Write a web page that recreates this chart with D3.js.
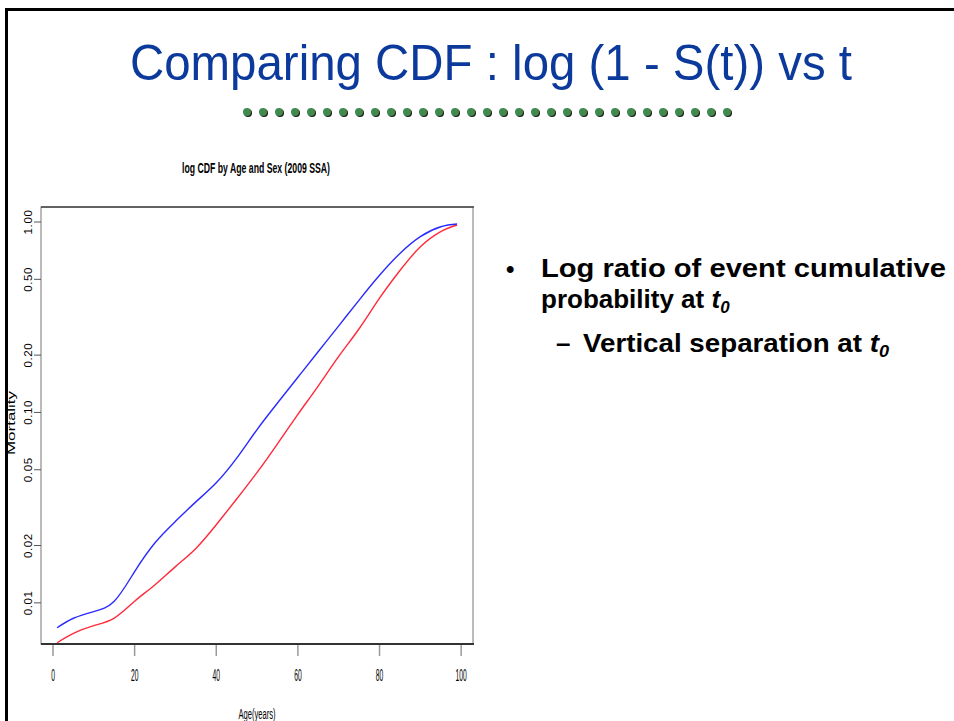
<!DOCTYPE html>
<html>
<head>
<meta charset="utf-8">
<script src="https://cdn.jsdelivr.net/npm/d3@7"></script>
<style>
  body { margin: 0; background: #fff; }
  svg { display: block; }
</style>
</head>
<body>
<svg id="slide" width="954" height="721"></svg>
<script>
// values (cumulative mortality, log scale)
const ages = [1, 5, 10, 15, 20, 25, 30, 35, 40, 45, 50, 55, 60, 65, 70, 75, 80, 85, 90, 95, 99]
const blueCdf = [0.0074, 0.0083, 0.0090, 0.0102, 0.0146, 0.0207, 0.0268, 0.0339, 0.0427, 0.0575, 0.0813,
    0.112, 0.153, 0.209, 0.285, 0.389, 0.525, 0.684, 0.838, 0.944, 0.976]
const redCdf = [0.00617, 0.00692, 0.00759, 0.00832, 0.0102, 0.01245, 0.0155, 0.0193, 0.0257, 0.0351, 0.0484,
    0.0684, 0.0977, 0.138, 0.197, 0.275, 0.398, 0.556, 0.741, 0.891, 0.964]
const xTicks = [0, 20, 40, 60, 80, 100]
const yTicks = [0.01, 0.02, 0.05, 0.10, 0.20, 0.50, 1.00]

const svg = d3.select('#slide')
const sans = 'Liberation Sans, Arial, Helvetica, sans-serif'

/**
 * fit a text element to a width by scaling glyphs
 */
function fit(sel, w) {
    sel.attr('textLength', w).attr('lengthAdjust', 'spacingAndGlyphs')
    return sel
}

// ---- slide frame
svg.append('rect')
    .attr('x', 6.5).attr('y', 9.5)
    .attr('width', 1000).attr('height', 800)
    .attr('fill', 'none').attr('stroke', '#000').attr('stroke-width', 3)

// ---- slide title
fit(svg.append('text')
    .attr('x', 491).attr('y', 80)
    .attr('text-anchor', 'middle')
    .attr('font-family', sans)
    .attr('font-size', 50)
    .attr('fill', '#0b3a9c')
    .text('Comparing CDF : log (1 - S(t)) vs t'), 722)

// dotted green rule
const dots = d3.range(31)
const dotG = svg.append('g')
dotG.selectAll('circle.shadow').data(dots).enter()
    .append('circle').attr('class', 'shadow')
    .attr('cx', d => 248 + d * 16).attr('cy', 113).attr('r', 4)
    .attr('fill', '#1a1a1a')
dotG.selectAll('circle.dot').data(dots).enter()
    .append('circle').attr('class', 'dot')
    .attr('cx', d => 247 + d * 16).attr('cy', 112).attr('r', 4)
    .attr('fill', '#3f8a4c')

// ---- chart
const box = { left: 41, right: 473, top: 207, bottom: 644 }

const x = d3.scaleLinear().domain([-2.94, 102.9]).range([box.left, box.right])
const y = d3.scaleLog().domain([0.00608, 1.199]).range([box.bottom, box.top])

fit(svg.append('text')
    .attr('x', 256).attr('y', 173)
    .attr('text-anchor', 'middle')
    .attr('font-family', sans)
    .attr('font-weight', 'bold')
    .attr('font-size', 14)
    .attr('fill', '#000')
    .text('log CDF by Age and Sex (2009 SSA)'), 148)

const chart = svg.append('g')

chart.append('rect')
    .attr('x', box.left).attr('y', box.top)
    .attr('width', box.right - box.left).attr('height', box.bottom - box.top)
    .attr('fill', '#fff').attr('stroke', '#777').attr('stroke-width', 1)
chart.append('line')
    .attr('x1', box.left).attr('x2', box.right + 1)
    .attr('y1', box.top).attr('y2', box.top)
    .attr('stroke', '#444').attr('stroke-width', 1.5)
chart.append('line')
    .attr('x1', box.left).attr('x2', box.right + 1)
    .attr('y1', box.bottom).attr('y2', box.bottom)
    .attr('stroke', '#333').attr('stroke-width', 2)

// x axis (ticks hanging under the box)
const xAxis = chart.append('g')
xAxis.selectAll('line').data(xTicks).enter()
    .append('line')
    .attr('x1', d => x(d)).attr('x2', d => x(d))
    .attr('y1', box.bottom + 1).attr('y2', box.bottom + 12)
    .attr('stroke', '#999').attr('stroke-width', 1.5)
xAxis.selectAll('text').data(xTicks).enter()
    .append('text')
    .attr('transform', d => `translate(${x(d)},681) scale(0.42,1)`)
    .attr('text-anchor', 'middle')
    .attr('font-family', sans)
    .attr('font-size', 16)
    .attr('fill', '#000')
    .text(d => d)

fit(svg.append('text')
    .attr('x', 257).attr('y', 719)
    .attr('text-anchor', 'middle')
    .attr('font-family', sans)
    .attr('font-size', 14)
    .attr('fill', '#000')
    .text('Age(years)'), 37)

// y axis (log)
const yAxis = chart.append('g')
yAxis.selectAll('line').data(yTicks).enter()
    .append('line')
    .attr('x1', box.left - 7).attr('x2', box.left)
    .attr('y1', d => y(d)).attr('y2', d => y(d))
    .attr('stroke', '#555').attr('stroke-width', 1)
yAxis.selectAll('text').data(yTicks).enter()
    .append('text')
    .attr('transform', d => `translate(32,${y(d)}) rotate(-90)`)
    .attr('text-anchor', 'middle')
    .attr('font-family', sans)
    .attr('font-size', 11.5)
    .attr('letter-spacing', 0.6)
    .attr('fill', '#000')
    .text(d3.format('.2f'))

fit(svg.append('text')
    .attr('transform', 'translate(15,423) rotate(-90)')
    .attr('text-anchor', 'middle')
    .attr('font-family', sans)
    .attr('font-size', 11)
    .attr('fill', '#000')
    .text('Mortality'), 64)

// curves
const line = d3.line()
    .x((d, i) => x(ages[i]))
    .y(d => y(d))
    .curve(d3.curveNatural)

chart.append('path').datum(redCdf)
    .attr('d', line)
    .attr('fill', 'none').attr('stroke', '#ff2a3a').attr('stroke-width', 1.4)
chart.append('path').datum(blueCdf)
    .attr('d', line)
    .attr('fill', 'none').attr('stroke', '#2a2aff').attr('stroke-width', 1.4)

// white margin to the left of the slide frame hides the cut label
svg.append('rect').attr('x', 0).attr('y', 0).attr('width', 5).attr('height', 721).attr('fill', '#fff')
svg.append('line').attr('x1', 6.5).attr('x2', 6.5).attr('y1', 8).attr('y2', 721)
    .attr('stroke', '#000').attr('stroke-width', 3)

// ---- bullets
const bullets = svg.append('g')
    .attr('font-family', sans)
    .attr('font-weight', 'bold')
    .attr('fill', '#000')

bullets.append('text').attr('x', 506).attr('y', 277).attr('font-size', 24).text('•')
fit(bullets.append('text').attr('x', 541).attr('y', 277).attr('font-size', 26)
    .text('Log ratio of event cumulative'), 405)

const l2 = bullets.append('text').attr('x', 541).attr('y', 308).attr('font-size', 26)
l2.append('tspan').text('probability at ')
l2.append('tspan').attr('font-style', 'italic').text('t')
l2.append('tspan').attr('font-style', 'italic').attr('font-size', 17).attr('dy', 5).text('0')

bullets.append('text').attr('x', 556).attr('y', 352).attr('font-size', 26).text('–')
const l3 = fit(bullets.append('text').attr('x', 583).attr('y', 352).attr('font-size', 26), 306)
l3.append('tspan').text('Vertical separation at ')
l3.append('tspan').attr('font-style', 'italic').text('t')
l3.append('tspan').attr('font-style', 'italic').attr('font-size', 17).attr('dy', 5).text('0')
</script>
</body>
</html>
